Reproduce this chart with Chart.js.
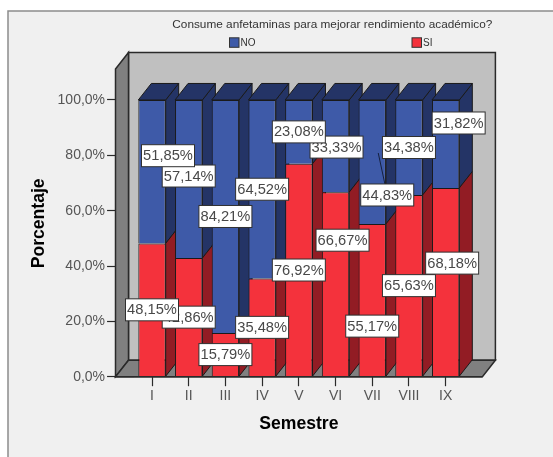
<!DOCTYPE html>
<html><head><meta charset="utf-8">
<style>html,body{margin:0;padding:0;background:#fff}canvas{display:block}</style>
<script src="https://cdn.jsdelivr.net/npm/chart.js@4"></script>
</head><body><canvas id="c" width="553" height="457"></canvas>
<script>
const semestres = ['I','II','III','IV','V','VI','VII','VIII','IX'];
const valoresSI = [48.15,42.86,15.79,35.48,76.92,66.67,55.17,65.63,68.18];
const valoresNO = [51.85,57.14,84.21,64.52,23.08,33.33,44.83,34.38,31.82];
const yTicks = [0,20,40,60,80,100];
const titulo = 'Consume anfetaminas para mejorar rendimiento académico?';

// label displacement from the centre of each segment, px
const shiftSI = [[0,0],[0,0],[0,0],[0,0],[0,0],[7,-44],[0,26],[0,0],[6.5,-19]];
const shiftNO = [[16,-16],[0,-3],[0,0],[0,0],[0,0],[1,1],[15,33],[0,0],[13,-21]];
const DX = 13, DY = 16.5;
const FONT = '"Liberation Sans", Arial, sans-serif';
const DARK = '#2a2a2a';

function poly(ctx, pts, fill, stroke, lw){
  ctx.beginPath();
  pts.forEach((p,i)=> i?ctx.lineTo(p[0],p[1]):ctx.moveTo(p[0],p[1]));
  ctx.closePath();
  if(fill){ctx.fillStyle=fill;ctx.fill();}
  if(stroke){ctx.strokeStyle=stroke;ctx.lineWidth=lw||1;ctx.stroke();}
}

const scene = {
  id:'scene',
  afterLayout(chart){
    // centre the title over the plot box rather than the data area
    const t = chart.titleBlock; t.left += 33.5; t.right += 33.5;
    const y = chart.scales.y;
    if(!y._shifted){
      y._shifted = true;
      const orig = y.drawTitle;
      y.drawTitle = function(){
        const a=this.top,b=this.bottom; this.top-=15; this.bottom-=15;
        orig.call(this); this.top=a; this.bottom=b;
      };
    }
  },
  beforeDraw(chart){
    const ctx = chart.ctx;
    ctx.save();
    ctx.fillStyle='#fff'; ctx.fillRect(0,0,553,457);
    ctx.fillStyle='#f0f0f0'; ctx.strokeStyle='#8c8c8c'; ctx.lineWidth=1.5;
    ctx.beginPath(); ctx.rect(8,11,560,460); ctx.fill(); ctx.stroke();
    ctx.restore();
  },
  beforeDatasetsDraw(chart){
    const ctx = chart.ctx, {x,y} = chart.scales;
    const bottom = y.getPixelForValue(0), top = y.getPixelForValue(100);
    const L = 115.5, R = 482.4, frontTop = top-31;
    ctx.save();
    poly(ctx,[[L+DX,frontTop-DY],[R+DX,frontTop-DY],[R+DX,bottom-DY],[L+DX,bottom-DY]],'#c0c0c0',DARK,1.5);
    poly(ctx,[[L,frontTop],[L+DX,frontTop-DY],[L+DX,bottom-DY],[L,bottom]],'#808080',DARK,1.5);
    poly(ctx,[[L,bottom],[L+DX,bottom-DY],[R+DX,bottom-DY],[R,bottom]],'#808080',DARK,1.5);
    // side and top faces of every stacked segment, back to front
    const faces = [[1,'#243466','#243466'],[0,'#921c24','#921c24']];
    faces.forEach(([d,side,topc])=>{
      chart.getDatasetMeta(d).data.forEach(b=>{
        const h = b.getProps(['x','y','base','width']);
        const r = h.x+h.width/2, l = h.x-h.width/2;
        poly(ctx,[[r,h.y],[r+DX,h.y-DY],[r+DX,h.base-DY],[r,h.base]],side,'#1a1a1a',1);
        if(d===1) poly(ctx,[[l,h.y],[l+DX,h.y-DY],[r+DX,h.y-DY],[r,h.y]],topc,'#1a1a1a',1);
      });
    });
    ctx.restore();
  },
  afterDatasetsDraw(chart){
    const ctx = chart.ctx;
    ctx.save();
    // front edge of the floor
    const y0 = chart.scales.y.getPixelForValue(0);
    ctx.strokeStyle=DARK; ctx.lineWidth=1.5;
    ctx.beginPath(); ctx.moveTo(115.5,y0); ctx.lineTo(482.4,y0); ctx.stroke();
    // value labels; the earlier semester sits on top
    ctx.font = '14.7px '+FONT; ctx.textAlign='center'; ctx.textBaseline='middle';
    const nm = chart.getDatasetMeta(1).data, sm = chart.getDatasetMeta(0).data;
    const one = (bar,val,s,leader)=>{
      const p = bar.getProps(['x','y','base']);
      const cx = p.x+s[0], cy = (p.y+p.base)/2+s[1];
      if(leader){
        ctx.strokeStyle='#14203f'; ctx.lineWidth=1;
        ctx.beginPath(); ctx.moveTo(p.x+6,(p.y+p.base)/2-9); ctx.lineTo(cx,cy); ctx.stroke();
      }
      ctx.fillStyle='#fff'; ctx.fillRect(cx-26.5,cy-11,53,22);
      ctx.strokeStyle='#303030'; ctx.lineWidth=1; ctx.strokeRect(cx-26.5,cy-11,53,22);
      ctx.fillStyle='#484848';
      ctx.fillText(val.toFixed(2).replace('.',',')+'%',cx,cy+0.5);
    };
    for(let i=semestres.length-1;i>=0;i--){
      one(sm[i],valoresSI[i],shiftSI[i],false);
      one(nm[i],valoresNO[i],shiftNO[i],semestres[i]==='VII');
    }
    // legend
    ctx.font='10px '+FONT; ctx.textAlign='left'; ctx.textBaseline='middle';
    [[1,229.5],[0,412]].forEach(([d,lx])=>{
      const ds = chart.data.datasets[d];
      ctx.fillStyle=ds.backgroundColor; ctx.fillRect(lx,37.8,9.5,9.5);
      ctx.strokeStyle='#333'; ctx.lineWidth=1; ctx.strokeRect(lx,37.8,9.5,9.5);
      ctx.fillStyle='#333'; ctx.fillText(ds.label,lx+11,43);
    });
    ctx.restore();
  }
};

new Chart(document.getElementById('c'),{
  type:'bar',
  data:{labels:semestres,datasets:[
    {label:'SI',data:valoresSI,backgroundColor:'#f4323c',borderColor:'#1a1a1a',borderWidth:1,barPercentage:0.745,categoryPercentage:1},
    {label:'NO',data:valoresNO,backgroundColor:'#3e5aa8',borderColor:'#1a1a1a',borderWidth:1,barPercentage:0.745,categoryPercentage:1}
  ]},
  plugins:[scene],
  options:{
    responsive:false,animation:false,
    layout:{padding:{left:0,right:89,top:0,bottom:0}},
    plugins:{
      legend:{display:false},tooltip:{enabled:false},
      title:{display:true,text:titulo,fullSize:false,color:'#333',
        font:{family:FONT,size:11.8,weight:'normal',lineHeight:1.2},
        padding:{top:18,bottom:67.8}}
    },
    scales:{
      x:{stacked:true,offset:true,
        grid:{display:true,drawOnChartArea:false,drawTicks:true,tickLength:9.5,tickColor:DARK,tickWidth:1.2,offset:false},
        border:{display:false},
        ticks:{color:'#555',font:{family:FONT,size:14},padding:2,maxRotation:0,autoSkip:false},
        title:{display:true,text:'Semestre',color:'#000',font:{family:FONT,size:17.6,weight:'bold'},padding:{top:0,bottom:22}},
        afterFit(s){s.height=80.3;}
      },
      y:{stacked:true,min:0,max:100,
        grid:{display:true,drawOnChartArea:false,drawTicks:true,tickLength:26.6,tickColor:DARK,tickWidth:1.2},
        border:{display:false},
        afterBuildTicks(s){s.ticks=yTicks.map(v=>({value:v}));},
        ticks:{color:'#555',font:{family:FONT,size:14},padding:2,callback:v=>v.toFixed(1).replace('.',',')+'%'},
        title:{display:true,text:'Porcentaje',color:'#000',font:{family:FONT,size:17.6,weight:'bold'},padding:{top:29,bottom:0}},
        afterFit(s){s.width=133.65;}
      }
    }
  }
});
</script></body></html>
